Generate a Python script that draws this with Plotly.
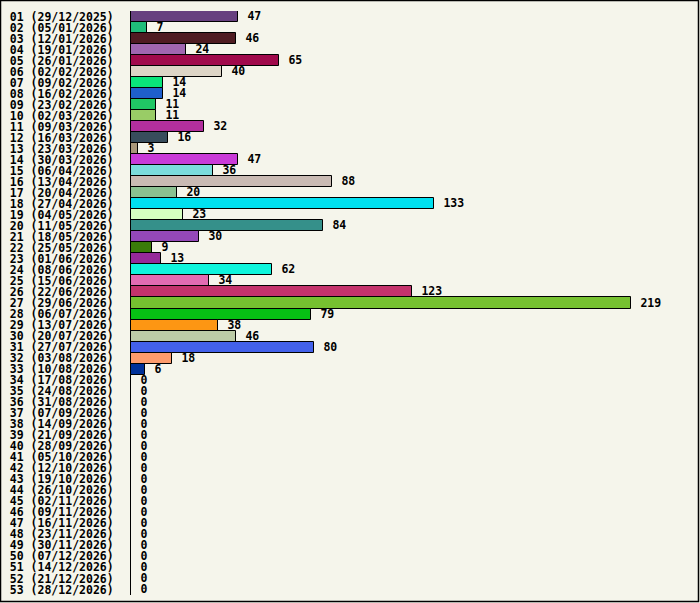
import plotly.graph_objects as go

weeks = [f"{i:02d}" for i in range(1, 54)]
week_starts = [
    "29/12/2025", "05/01/2026", "12/01/2026", "19/01/2026", "26/01/2026", "02/02/2026",
    "09/02/2026", "16/02/2026", "23/02/2026", "02/03/2026", "09/03/2026", "16/03/2026",
    "23/03/2026", "30/03/2026", "06/04/2026", "13/04/2026", "20/04/2026", "27/04/2026",
    "04/05/2026", "11/05/2026", "18/05/2026", "25/05/2026", "01/06/2026", "08/06/2026",
    "15/06/2026", "22/06/2026", "29/06/2026", "06/07/2026", "13/07/2026", "20/07/2026",
    "27/07/2026", "03/08/2026", "10/08/2026", "17/08/2026", "24/08/2026", "31/08/2026",
    "07/09/2026", "14/09/2026", "21/09/2026", "28/09/2026", "05/10/2026", "12/10/2026",
    "19/10/2026", "26/10/2026", "02/11/2026", "09/11/2026", "16/11/2026", "23/11/2026",
    "30/11/2026", "07/12/2026", "14/12/2026", "21/12/2026", "28/12/2026",
]
counts = [
    47, 7, 46, 24, 65, 40, 14, 14, 11, 11, 32, 16, 3, 47, 36, 88, 20, 133, 23, 84,
    30, 9, 13, 62, 34, 123, 219, 79, 38, 46, 80, 18, 6,
] + [0] * 20
bar_colors = [
    "#67407f", "#1fbd7a", "#4f1c22", "#a066b0", "#a00a4c", "#ddd5c6", "#0ae57a",
    "#1f5fcc", "#20c765", "#99cc66", "#b22f9e", "#384d5c", "#a89779", "#c93ad8",
    "#7bdcdc", "#c9bab3", "#8bc191", "#00e0f0", "#d6ffc0", "#35908a", "#9448b8",
    "#3a7b0a", "#962a9a", "#0ff5dc", "#e26cb2", "#c4336c", "#76c130", "#07c014",
    "#fd9613", "#bccba6", "#4361ea", "#fd9b6c", "#003199",
] + ["#888888"] * 20

labels = [f"{w} ({d})" for w, d in zip(weeks, week_starts)]
font = dict(family="DejaVu Sans Mono", size=11.5, color="black", weight="bold")

fig = go.Figure(go.Bar(
    x=counts,
    y=labels,
    orientation="h",
    marker=dict(color=bar_colors, line=dict(color="black", width=1)),
    text=counts,
    texttemplate=" %{x}",
    textposition="outside",
    constraintext="none",
    textfont=font,
    cliponaxis=False,
    hoverinfo="skip",
))

# outer frame around the whole picture (paper coords relative to plot area)
L, R, T, B = 131, 10, 11, 8
pw, ph = 700 - L - R, 603 - T - B
fig.add_shape(type="rect", xref="paper", yref="paper",
              x0=(0.5 - L) / pw, x1=(698.5 - L) / pw,
              y0=(603 - B - 601.5) / ph, y1=(603 - B - 0.5) / ph,
              line=dict(color="black", width=1.5), fillcolor="rgba(0,0,0,0)")

fig.update_layout(
    width=700, height=603,
    margin=dict(l=L, r=R, t=T, b=B, autoexpand=False),
    paper_bgcolor="#f5f5eb",
    plot_bgcolor="#f5f5eb",
    bargap=0,
    showlegend=False,
    font=font,
    xaxis=dict(range=[0, 245], visible=False, automargin=False),
    yaxis=dict(autorange="reversed", showgrid=False, ticks="", showline=True,
               linecolor="black", linewidth=1, ticklabelstandoff=14,
               tickmode="array", tickvals=labels, ticktext=labels,
               automargin=False, tickfont=font),
)

fig.write_html("out.html", config={"displayModeBar": False},
               post_script="document.body.style.margin='0';document.body.style.overflow='hidden';")
